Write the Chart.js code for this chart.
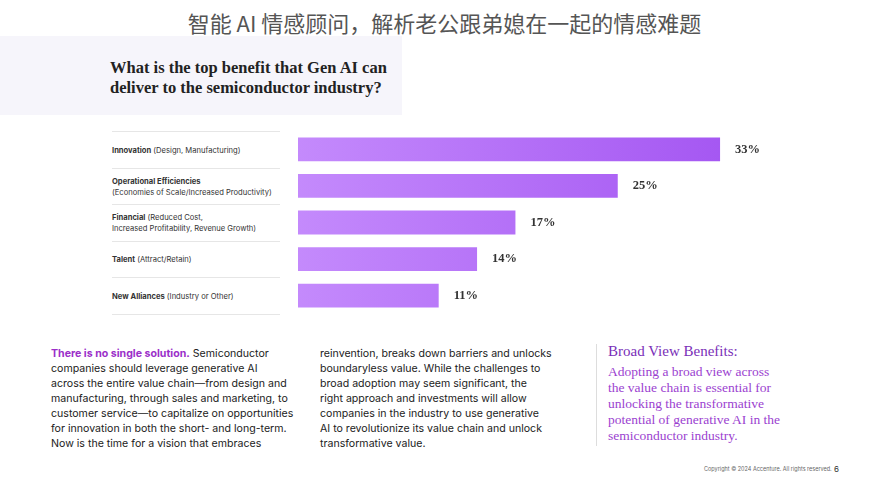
<!DOCTYPE html>
<html><head><meta charset="utf-8">
<script src="https://cdn.jsdelivr.net/npm/chart.js@4/dist/chart.umd.min.js"></script>
<style>
body{margin:0;width:889px;height:500px;background:#fff;position:relative;overflow:hidden;font-family:Inter,"Noto Sans",sans-serif;color:#222}
.abs{position:absolute}
#hdrbox{left:0;top:36px;width:402px;height:79px;background:#f6f5fb}
#cn{left:0;width:889px;top:6px;text-align:center;font:22px "Noto Sans CJK SC",sans-serif;color:#555}
#q{left:110px;top:58px;font:bold 16.5px "Liberation Serif",serif;line-height:20px;color:#222}
.lab{left:112px;width:168px;font-size:7.6px;line-height:11px;color:#333;display:flex;align-items:center;border-top:1px solid #e6e6e6;white-space:nowrap}
.col{font-size:10.6px;line-height:15px;color:#222;white-space:nowrap}
#bv{left:608px;top:343px;font-family:"Liberation Serif",serif;color:#9b3fd0;white-space:nowrap}
</style></head><body>
<div id="hdrbox" class="abs"></div>
<div id="cn" class="abs">智能 AI 情感顾问，解析老公跟弟媳在一起的情感难题</div>
<div id="q" class="abs">What is the top benefit that Gen AI can<br>deliver to the semiconductor industry?</div>
<div id="labs"></div>
<div class="abs" style="left:298px;top:131px;width:520px;height:183px"><canvas id="c"></canvas></div>
<div class="abs col" style="left:51px;top:346px"><b style="color:#9b2fc9">There is no single solution.</b> Semiconductor<br>companies should leverage generative AI<br>across the entire value chain—from design and<br>manufacturing, through sales and marketing, to<br>customer service—to capitalize on opportunities<br>for innovation in both the short- and long-term.<br>Now is the time for a vision that embraces</div>
<div class="abs col" style="left:320px;top:346px">reinvention, breaks down barriers and unlocks<br>boundaryless value. While the challenges to<br>broad adoption may seem significant, the<br>right approach and investments will allow<br>companies in the industry to use generative<br>AI to revolutionize its value chain and unlock<br>transformative value.</div>
<div class="abs" style="left:596px;top:344px;width:1px;height:102px;background:#ddd"></div>
<div id="bv" class="abs"><div style="font-size:15px;color:#7a2fb8;margin-bottom:4px">Broad View Benefits:</div><div style="font-size:13.5px;line-height:16px">Adopting a broad view across<br>the value chain is essential for<br>unlocking the transformative<br>potential of generative AI in the<br>semiconductor industry.</div></div>
<div class="abs" style="left:704px;top:466px;font-size:5.5px;color:#666">Copyright © 2024 Accenture. All rights reserved.</div>
<div class="abs" style="left:834px;top:464px;font-size:8px;color:#333">6</div>
<script>
const boldNames = ["Innovation", "Operational Efficiencies", "Financial", "Talent", "New Alliances"];
const details = [" (Design, Manufacturing)", "<br>(Economies of Scale/Increased Productivity)", " (Reduced Cost,<br>Increased Profitability, Revenue Growth)", " (Attract/Retain)", " (Industry or Other)"];
const values = [33, 25, 17, 14, 11];

const labs = document.getElementById("labs");
boldNames.forEach((n, i) => {
  const d = document.createElement("div");
  d.className = "abs lab";
  d.style.top = (131 + i * 36.6) + "px";
  d.style.height = "36px";
  if (i === boldNames.length - 1) d.style.borderBottom = "1px solid #e6e6e6";
  d.innerHTML = `<span><b>${n}</b>${details[i]}</span>`;
  labs.appendChild(d);
});

const valueLabels = {
  id: "valueLabels",
  afterDatasetsDraw(chart) {
    const ctx = chart.ctx;
    ctx.save();
    ctx.font = "bold 12.5px 'Liberation Serif', serif";
    ctx.fillStyle = "#333";
    ctx.textBaseline = "middle";
    chart.getDatasetMeta(0).data.forEach((bar, i) => {
      ctx.fillText(values[i] + "%", bar.x + 15, bar.y);
    });
    ctx.restore();
  }
};

new Chart(document.getElementById("c"), {
  type: "bar",
  data: {
    labels: boldNames,
    datasets: [{
      data: values,
      backgroundColor: (c) => {
        const a = c.chart.chartArea;
        if (!a) return "#b06cf5";
        const bar = c.element;
        const x1 = bar && bar.x ? bar.x : a.right;
        const g = c.chart.ctx.createLinearGradient(a.left, 0, Math.max(x1, a.left + 1), 0);
        g.addColorStop(0, "#c48afc");
        g.addColorStop(1, "#9e4cf0");
        return g;
      },
      barPercentage: 0.65,
      categoryPercentage: 1
    }]
  },
  options: {
    indexAxis: "y",
    responsive: true,
    maintainAspectRatio: false,
    animation: false,
    layout: { padding: 0 },
    plugins: { legend: { display: false }, tooltip: { enabled: false } },
    scales: {
      x: { display: false, min: 0, max: 520 / 12.79 },
      y: { display: false }
    }
  },
  plugins: [valueLabels]
});
</script>
</body></html>
